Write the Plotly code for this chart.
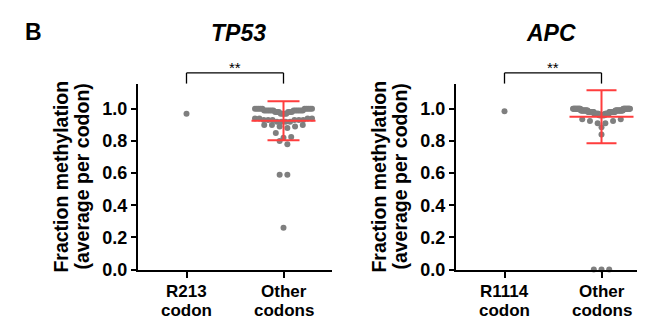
import math
import numpy as np
import plotly.graph_objects as go

W, H = 645, 322

# ---------------- data ----------------
panel_titles = ["TP53", "APC"]
category_labels_tp53 = [["R213", "codon"], ["Other", "codons"]]
category_labels_apc = [["R1114", "codon"], ["Other", "codons"]]
y_ticks = [0.0, 0.2, 0.4, 0.6, 0.8, 1.0]
y_tick_labels = ["0.0", "0.2", "0.4", "0.6", "0.8", "1.0"]
significance = ["**", "**"]

tp53_target = [0.97]
tp53_other = [
    1.00, 1.00, 1.00, 1.00, 1.00, 1.00, 1.00, 1.00, 1.00, 1.00,
    0.99, 0.99, 0.99, 0.99, 0.99, 0.99, 0.99, 0.99, 0.99, 0.99, 0.99, 0.99,
    0.98, 0.98, 0.98, 0.98, 0.98, 0.98,
    0.97, 0.97, 0.97, 0.97,
    0.94, 0.94, 0.94, 0.94,
    0.93, 0.93, 0.93, 0.93, 0.93, 0.93,
    0.92, 0.92, 0.92, 0.92,
    0.90, 0.90, 0.90, 0.89, 0.89, 0.88,
    0.85, 0.825, 0.82,
    0.80, 0.78,
    0.59, 0.59,
    0.26,
]

apc_target = [0.985]
apc_other = [
    1.00, 1.00, 1.00, 1.00, 1.00, 1.00, 1.00, 1.00, 1.00, 1.00,
    1.00, 1.00, 1.00, 1.00, 1.00, 1.00, 1.00, 1.00, 1.00, 1.00,
    1.00, 1.00, 1.00, 1.00, 1.00,
    0.99, 0.99, 0.99, 0.99, 0.99, 0.99, 0.99, 0.99, 0.99, 0.99,
    0.99, 0.99, 0.99, 0.99, 0.99, 0.99, 0.99, 0.99, 0.99, 0.99,
    0.99, 0.99, 0.99, 0.99, 0.99,
    0.98, 0.98, 0.98, 0.98, 0.98, 0.98, 0.98, 0.98, 0.98, 0.98,
    0.98, 0.98, 0.98, 0.98, 0.98, 0.98, 0.98, 0.98, 0.98, 0.98,
    0.97, 0.97, 0.97, 0.97, 0.97, 0.97, 0.97, 0.97, 0.97, 0.97,
    0.97, 0.97, 0.97, 0.97, 0.97,
    0.96, 0.96, 0.96, 0.96, 0.96, 0.96, 0.96, 0.96, 0.96, 0.96,
    0.935, 0.935, 0.925, 0.925, 0.91, 0.91,
    0.885, 0.84,
    0.00, 0.00, 0.00,
]

# ---------------- styling ----------------
GREY = "#7f7f7f"
RED = "#ff3d3d"
FONT = "Liberation Sans, Arial, sans-serif"

panels_px = [(130, 324), (448, 642)]
y_bottom_px, y_top_px = 270, 78
Y_MAX = 1.157


def px_x(p):
    return p / W


def px_y(p):
    return 1 - p / H


def binned_scatter(values, px_per_x, bin_h=0.05, bin_off=0.955,
                   spacing=7.7, max_w=57.0):
    """GraphPad-like column scatter: bin values in y, spread each bin
    horizontally (outer positions take the larger values)."""
    vals = np.asarray(values, dtype=float)
    bins = np.floor((vals - bin_off) / bin_h + 1e-9).astype(int)
    offsets = np.zeros(len(vals))
    for b in np.unique(bins):
        idx = np.where(bins == b)[0]
        n = len(idx)
        if n == 1:
            continue
        s = min(spacing, max_w / (n - 1))
        pos = (np.arange(n) - (n - 1) / 2.0) * s
        pos_order = sorted(range(n), key=lambda i: (-abs(pos[i]), pos[i]))
        val_order = idx[np.argsort(-vals[idx], kind="stable")]
        for p_i, v_i in zip(pos_order, val_order):
            offsets[v_i] = pos[p_i] / px_per_x
    return offsets


fig = go.Figure()

panel_data = [
    (tp53_target, tp53_other, category_labels_tp53, 16, 230),
    (apc_target, apc_other, category_labels_apc, 15, 543),
]

annotations = []
shapes = []

for k, (target, other, labels, capw, title_px) in enumerate(panel_data):
    xa = "x" if k == 0 else "x2"
    ya = "y" if k == 0 else "y2"
    x0p, x1p = panels_px[k]
    px_per_x = (x1p - x0p) / 2.0

    offs = binned_scatter(other, px_per_x)
    fig.add_trace(go.Scatter(
        x=[0] * len(target), y=target, mode="markers",
        marker=dict(color=GREY, size=6), xaxis=xa, yaxis=ya,
        showlegend=False, cliponaxis=False))
    fig.add_trace(go.Scatter(
        x=1 + offs, y=other, mode="markers",
        marker=dict(color=GREY, size=6), xaxis=xa, yaxis=ya,
        showlegend=False, cliponaxis=False))

    mean = float(np.mean(other))
    sd = float(np.std(other, ddof=1))
    fig.add_trace(go.Scatter(
        x=[1 - 0.33, 1 + 0.33], y=[mean, mean], mode="lines",
        line=dict(color=RED, width=2), xaxis=xa, yaxis=ya, showlegend=False))
    fig.add_trace(go.Scatter(
        x=[1], y=[mean], mode="markers", marker=dict(size=1, opacity=0),
        error_y=dict(type="data", array=[sd], symmetric=True,
                     color=RED, thickness=2, width=capw),
        xaxis=xa, yaxis=ya, showlegend=False))

    annotations.append(dict(
        x=px_x(title_px), y=px_y(26), xref="paper", yref="paper",
        text="<b><i>%s</i></b>" % panel_titles[k], showarrow=False,
        font=dict(family=FONT, size=23, color="black"),
        xanchor="center", yanchor="middle"))

    for txt, dx in [("Fraction methylation", -77), ("(average per codon)", -56)]:
        annotations.append(dict(
            x=px_x(x0p + dx), y=px_y(174), xref="paper", yref="paper",
            text="<b>%s</b>" % txt, showarrow=False, textangle=-90,
            font=dict(family=FONT, size=19.5, color="black"),
            xanchor="center", yanchor="middle"))

    for ci in range(2):
        for li, ypx in enumerate([292.5, 312]):
            annotations.append(dict(
                x=ci, y=px_y(ypx), xref=xa, yref="paper",
                text="<b>%s</b>" % labels[ci][li], showarrow=False,
                font=dict(family=FONT, size=17, color="black"),
                xanchor="center", yanchor="middle", borderpad=0))

    yb, yt = px_y(78), px_y(67)
    for (xs0, ys0, xs1, ys1) in [(0, yb, 0, yt), (0, yt, 1, yt), (1, yt, 1, yb)]:
        shapes.append(dict(type="line", xref=xa, yref="paper",
                           x0=xs0, y0=ys0, x1=xs1, y1=ys1,
                           line=dict(color="black", width=1.3)))
    annotations.append(dict(
        x=0.5, y=px_y(61), xref=xa, yref="paper", text=significance[k],
        showarrow=False, font=dict(family=FONT, size=15, color="black"),
        xanchor="center", yanchor="middle"))

annotations.append(dict(
    x=px_x(25), y=px_y(25), xref="paper", yref="paper", text="<b>B</b>",
    showarrow=False, font=dict(family=FONT, size=23, color="black"),
    xanchor="center", yanchor="middle"))

xcommon = dict(range=[-0.5, 1.5], tickvals=[0, 1], showticklabels=False,
               ticks="outside", ticklen=6, tickwidth=2, tickcolor="black",
               showline=True, linecolor="black", linewidth=2,
               showgrid=False, zeroline=False, fixedrange=True)
ycommon = dict(range=[0, Y_MAX], tickvals=y_ticks, ticktext=y_tick_labels,
               ticks="outside", ticklen=5, tickwidth=2, tickcolor="black",
               showline=True, linecolor="black", linewidth=2,
               showgrid=False, zeroline=False, fixedrange=True,
               tickfont=dict(family=FONT, size=18, color="black", weight="bold"),
               domain=[px_y(y_bottom_px), px_y(y_top_px)])

fig.update_layout(
    width=W, height=H,
    margin=dict(l=0, r=0, t=0, b=0),
    paper_bgcolor="white", plot_bgcolor="white",
    xaxis=dict(domain=[px_x(panels_px[0][0]), px_x(panels_px[0][1])], anchor="y", **xcommon),
    yaxis=dict(anchor="x", **ycommon),
    xaxis2=dict(domain=[px_x(panels_px[1][0]), px_x(panels_px[1][1])], anchor="y2", **xcommon),
    yaxis2=dict(anchor="x2", **ycommon),
    annotations=annotations,
    shapes=shapes,
    showlegend=False,
)

fig.write_html("out.html")
